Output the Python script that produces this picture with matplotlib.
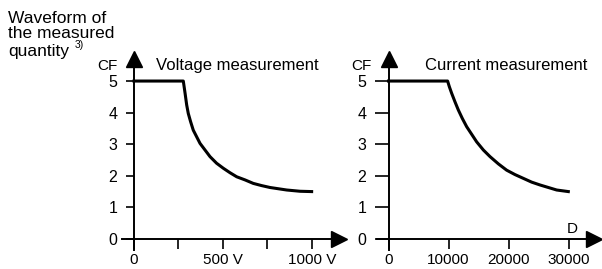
import matplotlib.pyplot as plt

plt.rcParams['font.family'] = ['Liberation Sans', 'DejaVu Sans']

# Voltage measurement: crest factor over voltage
volt_v = [0, 277, 287, 296, 305, 318, 333, 352, 371, 399, 427, 464, 502, 539,
          577, 624, 670, 717, 764, 811, 858, 933, 998]
volt_cf = [5.0, 5.0, 4.61, 4.24, 3.97, 3.71, 3.44, 3.23, 3.02, 2.81, 2.60,
           2.39, 2.23, 2.09, 1.96, 1.86, 1.75, 1.68, 1.62, 1.58, 1.54, 1.50, 1.49]
volt_ticks = [0, 250, 500, 750, 1000]
volt_labels = ['0', '', '500 V', '', '1000 V']

# Current measurement: crest factor over D
curr_d = [0, 9850, 10140, 10530, 11080, 11640, 12310, 13030, 13860, 14690,
          15810, 16920, 18310, 19690, 21080, 22470, 23860, 25250, 26640,
          28030, 29970]
curr_cf = [5.0, 5.0, 4.82, 4.61, 4.34, 4.08, 3.81, 3.55, 3.31, 3.07, 2.81,
           2.60, 2.37, 2.17, 2.03, 1.91, 1.79, 1.70, 1.62, 1.54, 1.49]
curr_ticks = [0, 10000, 20000, 30000]
curr_labels = ['0', '10000', '20000', '30000']

cf_ticks = [0, 1, 2, 3, 4, 5]

W, H = 602, 269


def fx(px):
    return px / W


def fy(py):
    return 1 - py / H


fig = plt.figure(figsize=(W / 100, H / 100), dpi=100)


def setup(ax, xlim, xticks, xlabels, ytick_len, ytick_pad):
    ax.set_xlim(xlim)
    ax.set_ylim(-0.365, 5.70)
    for s in ['top', 'right']:
        ax.spines[s].set_visible(False)
    for s in ['left', 'bottom']:
        ax.spines[s].set_position(('data', 0))
        ax.spines[s].set_linewidth(1.4)
    ax.set_xticks(xticks)
    ax.set_xticklabels(xlabels)
    ax.set_yticks(cf_ticks)
    ax.tick_params(axis='x', direction='out', length=7.5, width=1.2,
                   labelsize=11, pad=3)
    ax.tick_params(axis='y', direction='out', length=ytick_len, width=1.2,
                   labelsize=11.5, pad=ytick_pad)
    ax.patch.set_visible(False)
    # arrow heads at the end of both axes
    ax.plot(1, 0, '>', color='black', ms=11, transform=ax.get_yaxis_transform(),
            clip_on=False)
    ax.plot(0, 1, '^', color='black', ms=11, transform=ax.get_xaxis_transform(),
            clip_on=False)


ax1 = fig.add_axes([fx(122), fy(250), (339 - 122) / W, (250 - 59) / H])
setup(ax1, (-67.4, 1151.7), volt_ticks, volt_labels, 5.5, 6.5)
ax1.plot(volt_v, volt_cf, color='black', lw=2.2, solid_joinstyle='round',
         clip_on=False)

ax2 = fig.add_axes([fx(376.7), fy(250), (594 - 376.7) / W, (250 - 59) / H])
setup(ax2, (-1967, 34250), curr_ticks, curr_labels, 10, 6)
ax2.plot(curr_d, curr_cf, color='black', lw=2.2, solid_joinstyle='round',
         clip_on=False)

fs = 12
fig.text(fx(107), fy(70), 'CF', ha='center', va='baseline', size=11)
fig.text(fx(156), fy(70), 'Voltage measurement', ha='left', va='baseline', size=fs)
fig.text(fx(361), fy(70), 'CF', ha='center', va='baseline', size=11)
fig.text(fx(425), fy(70), 'Current measurement', ha='left', va='baseline', size=fs)
fig.text(fx(572), fy(233), 'D', ha='center', va='baseline', size=11)

fig.text(fx(8), fy(23), 'Waveform of', ha='left', va='baseline', size=12.5)
fig.text(fx(8), fy(37.5), 'the measured', ha='left', va='baseline', size=12.5)
fig.text(fx(8), fy(55.5), 'quantity', ha='left', va='baseline', size=12.5)
fig.text(fx(75), fy(47.5), '3)', ha='left', va='baseline', size=7.5)

fig.savefig('out.png', dpi=100)
